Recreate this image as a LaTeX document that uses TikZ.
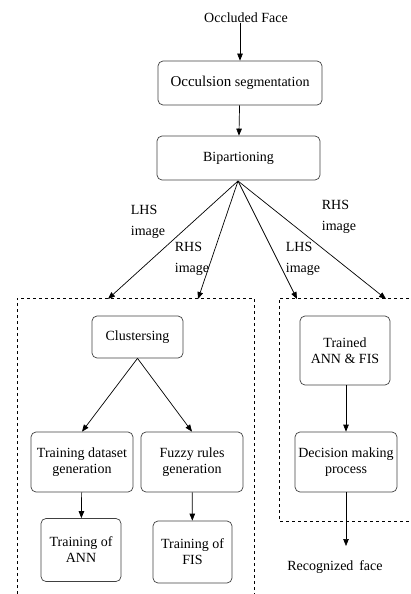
\documentclass[tikz,border=0pt]{standalone}
\usepackage{fontspec}
\setmainfont{Liberation Serif}
\usetikzlibrary{arrows.meta}
\begin{document}
\begin{tikzpicture}[x=1pt,y=-1pt,
  box/.style={draw=black!75,rounded corners=5pt,line width=0.7pt,align=center,inner sep=0pt,font=\fontsize{14}{16}\selectfont},
  lbl/.style={align=left,font=\fontsize{14}{21}\selectfont,inner sep=0pt},
  arr/.style={-{Triangle[length=7pt,width=5.5pt]},line width=0.7pt},
  dashline/.style={dashed,line width=0.8pt}]
\useasboundingbox (0,0) rectangle (411,594);
\node[lbl] (in) at (246,18) {Occluded Face};
\node[box,minimum width=164pt,minimum height=44pt] (occ) at (240,83) {{\fontsize{15}{16}\selectfont Occulsion} segmentation};
\node[box,minimum width=163pt,minimum height=44pt] (bip) at (238.5,158) {Bipartioning};
\coordinate (f) at (238,181);
\coordinate (t1) at (108,299);
\coordinate (t2) at (198,299);
\coordinate (t3) at (297,299);
\coordinate (t4) at (386,299);
\draw[arr] (in.south -| occ.north) -- (occ.north);
\draw[arr] (occ) -- (bip);
\draw[arr] (f) -- (t1);
\draw[arr] (f) -- (t2);
\draw[arr] (f) -- (t3);
\draw[arr] (f) -- (t4);
\node[lbl] (l1) at (148,222) {LHS\\image};
\node[lbl] (l2) at (192,259) {RHS\\image};
\node[lbl] (l3) at (303,259) {LHS\\image};
\node[lbl] (l4) at (339,217) {RHS\\image};
% dashed boxes
\draw[dashline] (17,600) -- (17,298) -- (254,298) -- (254,600);
\draw[dashline] (415,298) -- (279,298) -- (279,521) -- (415,521);
% left group
\node[box,minimum width=91pt,minimum height=42pt] (clu) at (137.5,337) {Clustersing};
\node[box,minimum width=102pt,minimum height=60pt] (tdg) at (82,462) {Training dataset\\generation};
\node[box,minimum width=102pt,minimum height=60pt] (frg) at (192,462) {Fuzzy rules\\generation};
\node[box,minimum width=80pt,minimum height=63pt] (tann) at (81,550) {Training of\\ANN};
\node[box,minimum width=79pt,minimum height=62pt] (tfis) at (192.5,552) {Training of\\FIS};
\draw[arr] (clu.south) -- (tdg.north);
\draw[arr] (clu.south) -- (frg.north);
\draw[arr] (tdg) -- (tann);
\draw[arr] (frg) -- (tfis);
% right group
\node[box,minimum width=90pt,minimum height=69pt] (tr) at (345,350.5) {Trained\\ANN \& FIS};
\node[box,minimum width=102pt,minimum height=60pt] (dec) at (346,462) {Decision making\\process};
\node[lbl] (rec) at (335,567) {Recognized\, face};
\coordinate (rt) at (346,546);
\draw[arr] (tr.south -| dec.north) -- (dec.north);
\draw[arr] (dec.south) -- (rt);
\end{tikzpicture}
\end{document}
